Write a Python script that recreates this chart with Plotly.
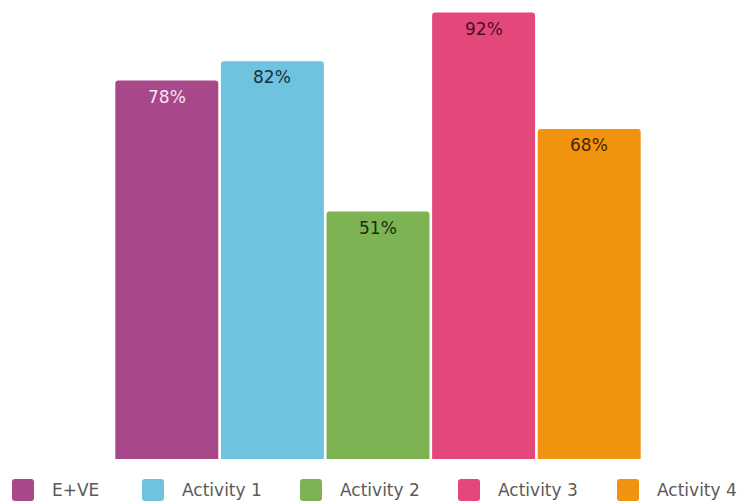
import plotly.graph_objects as go

# Share of responses per group
categories = ["E+VE", "Activity 1", "Activity 2", "Activity 3", "Activity 4"]
values = [78, 82, 51, 92, 68]
bar_colors = ["#A8488A", "#6EC3DE", "#7DB352", "#E4487A", "#F2930F"]
label_colors = ["#F6E4F1", "#17303D", "#1B2C10", "#4A1026", "#4A2406"]

# Figure geometry (pixels)
W, H = 748, 504
ML, MR, MT, MB = 114, 106, 0, 45
PW, PH = W - ML - MR, H - MT - MB

# Legend layout along the bottom edge: swatch left edges, text offset
legend_x = [12, 142, 300, 458, 617]
legend_y = 490
swatch = 22
text_dx = 38

fig = go.Figure()
for name, v, c in zip(categories, values, bar_colors):
    fig.add_trace(go.Bar(
        x=[name], y=[v], name=name,
        marker=dict(color=c, line=dict(width=0)),
        hoverinfo="skip", showlegend=False,
    ))

# Value labels just inside the top of each bar
for name, v, tc in zip(categories, values, label_colors):
    fig.add_annotation(
        x=name, y=v, yshift=-16, text=f"{v}%", showarrow=False,
        font=dict(family="DejaVu Sans, Verdana, sans-serif", size=17, color=tc),
    )


def px_to_paper(px, py):
    return (px - ML) / PW, (H - MB - py) / PH


# Legend: rounded colour swatches with series names
r = 3
h = swatch / 2
swatch_path = (
    f"M{-h + r},{-h} L{h - r},{-h} Q{h},{-h} {h},{-h + r} "
    f"L{h},{h - r} Q{h},{h} {h - r},{h} L{-h + r},{h} "
    f"Q{-h},{h} {-h},{h - r} L{-h},{-h + r} Q{-h},{-h} {-h + r},{-h} Z"
)
for name, c, lx in zip(categories, bar_colors, legend_x):
    ax, ay = px_to_paper(lx + h, legend_y)
    fig.add_shape(
        type="path", xref="paper", yref="paper",
        xsizemode="pixel", ysizemode="pixel", xanchor=ax, yanchor=ay,
        path=swatch_path, fillcolor=c, line=dict(width=0), layer="above",
    )
    tx, ty = px_to_paper(lx + text_dx, legend_y)
    fig.add_annotation(
        x=tx, y=ty, xref="paper", yref="paper", xanchor="left", yanchor="middle",
        text=name, showarrow=False,
        font=dict(family="DejaVu Sans, Verdana, sans-serif", size=17, color="#5A5A5A"),
    )

fig.update_layout(
    width=W, height=H,
    margin=dict(l=ML, r=MR, t=MT, b=MB),
    paper_bgcolor="white", plot_bgcolor="white",
    barmode="overlay", bargap=0.025, barcornerradius=3,
    xaxis=dict(visible=False, range=[-0.5, 4.5]),
    yaxis=dict(visible=False, range=[0, 94.6]),
    showlegend=False,
)

fig.write_html("out.html")
